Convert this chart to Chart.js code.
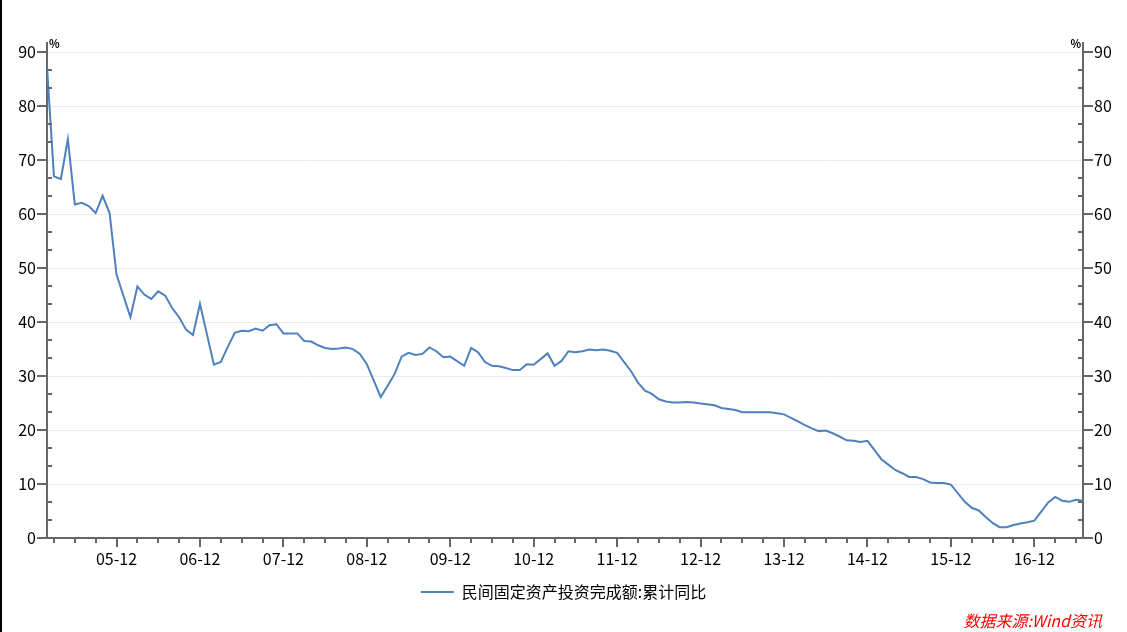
<!DOCTYPE html>
<html>
<head>
    <meta charset="utf-8">
    <title>民间固定资产投资完成额:累计同比</title>
    <script src="https://cdn.jsdelivr.net/npm/chart.js"></script>
    <style>
        html, body { margin: 0; padding: 0; background: #fff; }
        #wrap { position: relative; width: 1127px; height: 632px; }
        #edge { position: absolute; left: 0; top: 0; width: 2px; height: 632px; background: #000; }
    </style>
</head>
<body>
<div id="wrap">
    <canvas id="privateInvestChart" width="1127" height="632"></canvas>
    <div id="edge"></div>
</div>
<script>
    // 累计同比(%),每年 2月~12月(1月无单独数据)
    const v2005 = [87.3, 67.0, 66.5, 73.9, 61.8, 62.1, 61.5, 60.2, 63.4, 60.2, 48.8];
    const v2006 = [40.9, 46.6, 45.1, 44.3, 45.7, 44.9, 42.6, 40.9, 38.6, 37.6, 43.4];
    const v2007 = [32.1, 32.6, 35.4, 38.0, 38.4, 38.3, 38.8, 38.4, 39.4, 39.6, 37.9];
    const v2008 = [37.9, 36.5, 36.4, 35.7, 35.2, 35.0, 35.1, 35.3, 35.0, 34.1, 32.2];
    const v2009 = [26.1, 28.2, 30.4, 33.6, 34.3, 33.9, 34.1, 35.3, 34.6, 33.5, 33.6];
    const v2010 = [31.9, 35.2, 34.4, 32.6, 31.9, 31.8, 31.5, 31.1, 31.1, 32.2, 32.1];
    const v2011 = [34.2, 31.9, 32.8, 34.6, 34.4, 34.6, 34.9, 34.8, 34.9, 34.7, 34.3];
    const v2012 = [30.9, 28.8, 27.3, 26.7, 25.7, 25.3, 25.1, 25.1, 25.2, 25.1, 24.9];
    const v2013 = [24.6, 24.1, 23.9, 23.7, 23.3, 23.3, 23.3, 23.3, 23.3, 23.1, 22.9];
    const v2014 = [21.6, 20.9, 20.3, 19.8, 19.9, 19.4, 18.8, 18.1, 18.0, 17.8, 18.0];
    const v2015 = [14.6, 13.6, 12.6, 12.0, 11.3, 11.3, 10.9, 10.3, 10.2, 10.2, 9.9];
    const v2016 = [6.7, 5.6, 5.1, 3.9, 2.8, 2.0, 2.0, 2.4, 2.7, 2.9, 3.2];
    const v2017 = [6.6, 7.6, 6.9, 6.7, 7.1, 6.9];
    const yearValues = [v2005, v2006, v2007, v2008, v2009, v2010, v2011, v2012, v2013, v2014, v2015, v2016, v2017];

    const xTickLabels = ['05-12', '06-12', '07-12', '08-12', '09-12', '10-12', '11-12', '12-12', '13-12', '14-12', '15-12', '16-12'];
    const yTicks = [0, 10, 20, 30, 40, 50, 60, 70, 80, 90];
    const seriesName = '民间固定资产投资完成额:累计同比';
    const sourceText = '数据来源:Wind资讯';

    const lineColor = '#4F81BD';
    const axisColor = '#666666';
    const fontFamily = "'Noto Sans CJK SC', 'Noto Sans', sans-serif";

    // x = 月序号, 0 = 2005-01
    const points = [];
    yearValues.forEach((vals, yi) => {
        vals.forEach((v, mi) => points.push({x: yi * 12 + mi + 1, y: v}));
    });
    const xMin = 1;
    const xMax = points[points.length - 1].x;

    const tickMarks = {
        id: 'tickMarks',
        afterDraw(chart) {
            const ctx = chart.ctx;
            const sx = chart.scales.x, yl = chart.scales.y, yr = chart.scales.y2;
            ctx.save();
            ctx.strokeStyle = axisColor;
            ctx.lineWidth = 2;
            ctx.beginPath();
            for (let m = xMin + 1; m <= xMax; m += 3) {
                const px = Math.round(sx.getPixelForValue(m));
                const len = (m % 12 === 11) ? 9 : 5;
                ctx.moveTo(px, sx.top); ctx.lineTo(px, sx.top + len);
            }
            for (let k = 0; k <= 27; k++) {
                const py = Math.round(yl.getPixelForValue(k * 10 / 3));
                if (k % 3 === 0) {
                    ctx.moveTo(yl.right - 10, py); ctx.lineTo(yl.right, py);
                    ctx.moveTo(yr.left, py); ctx.lineTo(yr.left + 10, py);
                } else {
                    ctx.moveTo(yl.right, py); ctx.lineTo(yl.right + 5, py);
                    ctx.moveTo(yr.left - 5, py); ctx.lineTo(yr.left, py);
                }
            }
            ctx.stroke();

            ctx.fillStyle = '#000';
            ctx.font = 'bold 11px ' + fontFamily;
            ctx.textBaseline = 'bottom';
            ctx.textAlign = 'left';
            ctx.fillText('%', yl.right + 2, chart.chartArea.top + 6);
            ctx.textAlign = 'right';
            ctx.fillText('%', yr.left - 2, chart.chartArea.top + 6);

            ctx.fillStyle = '#FF0000';
            ctx.font = 'italic 16px ' + fontFamily;
            ctx.textBaseline = 'middle';
            ctx.textAlign = 'right';
            ctx.fillText(sourceText, 1102, 621);
            ctx.restore();
        }
    };

    new Chart(document.getElementById('privateInvestChart').getContext('2d'), {
        type: 'line',
        data: {
            datasets: [{
                label: seriesName,
                data: points,
                borderColor: lineColor,
                backgroundColor: lineColor,
                borderWidth: 2,
                pointRadius: 0,
                pointStyle: 'line',
                tension: 0,
                fill: false,
                yAxisID: 'y'
            }]
        },
        options: {
            responsive: false,
            animation: false,
            layout: { padding: { top: 43, bottom: 22, left: 0, right: 0 } },
            plugins: {
                tooltip: { enabled: false },
                legend: {
                    position: 'bottom',
                    labels: {
                        usePointStyle: true,
                        pointStyleWidth: 33,
                        color: '#000',
                        padding: 10,
                        font: { family: fontFamily, size: 16 }
                    }
                }
            },
            scales: {
                x: {
                    type: 'linear',
                    min: xMin,
                    max: xMax,
                    afterBuildTicks: s => { s.ticks = xTickLabels.map((t, i) => ({value: i * 12 + 11})); },
                    grid: { display: false, drawTicks: false },
                    border: { color: axisColor, width: 2 },
                    ticks: {
                        padding: 11,
                        color: '#000',
                        maxRotation: 0,
                        font: { family: fontFamily, size: 16 },
                        callback: v => xTickLabels[Math.round((v - 11) / 12)]
                    },
                    afterFit: s => { s.height = 36; }
                },
                y: {
                    position: 'left',
                    min: 0,
                    max: 91.7,
                    afterBuildTicks: s => { s.ticks = yTicks.map(v => ({value: v})); },
                    grid: { color: '#ebebeb', lineWidth: 1, drawTicks: false },
                    border: { color: axisColor, width: 2 },
                    ticks: { padding: 11, color: '#000', font: { family: fontFamily, size: 16 } },
                    afterFit: s => { s.width = 47; }
                },
                y2: {
                    position: 'right',
                    min: 0,
                    max: 91.7,
                    afterBuildTicks: s => { s.ticks = yTicks.map(v => ({value: v})); },
                    grid: { display: false, drawTicks: false },
                    border: { color: axisColor, width: 2 },
                    ticks: { padding: 11, color: '#000', font: { family: fontFamily, size: 16 } },
                    afterFit: s => { s.width = 44; }
                }
            }
        },
        plugins: [tickMarks]
    });
</script>
</body>
</html>
